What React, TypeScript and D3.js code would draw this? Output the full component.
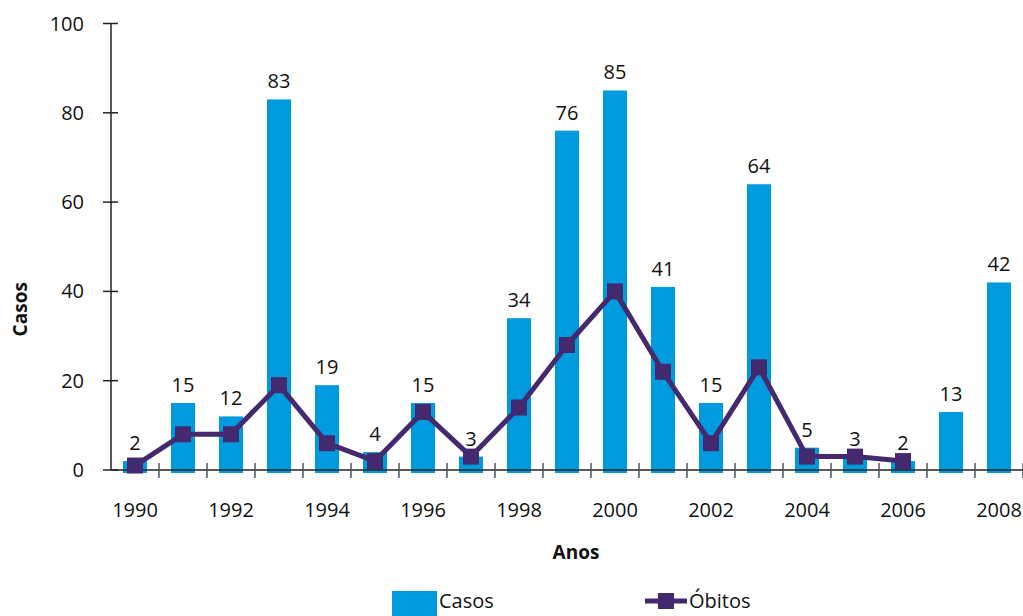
import * as d3 from 'd3';
import { useRef, useEffect } from 'react';

const anos: string[] = ['1990', '1991', '1992', '1993', '1994', '1995', '1996', '1997', '1998', '1999',
    '2000', '2001', '2002', '2003', '2004', '2005', '2006', '2007', '2008'];
const casos: number[] = [2, 15, 12, 83, 19, 4, 15, 3, 34, 76, 85, 41, 15, 64, 5, 3, 2, 13, 42];
// obitos only goes to 2006
const obitos: number[] = [1, 8, 8, 19, 6, 2, 13, 3, 14, 28, 40, 22, 6, 23, 3, 3, 2];
const yTicks: number[] = [0, 20, 40, 60, 80, 100];

const BAR_COLOR = '#009ade';
const LINE_COLOR = '#45296f';
const FONT = "'Open Sans', 'DejaVu Sans', sans-serif";

const App = () => {
    const ref = useRef<SVGSVGElement>(null);

    useEffect(() => {
        if (!ref.current) return;
        const root = d3.select(ref.current);
        root.selectAll('*').remove();

        const left = 111, right = 1023, top = 23.5, bottom = 470;

        const x = d3.scaleBand<string>()
            .domain(anos)
            .range([left, right])
            .paddingInner(0).paddingOuter(0);
        const y = d3.scaleLinear().domain([0, 100]).range([bottom, top]);
        const bw = x.bandwidth() * 0.5;
        const cx = (d: string) => x(d)! + x.bandwidth() / 2;

        const svg = root.append('g').style('font-family', FONT);

        // bars
        svg.selectAll('rect.bar')
            .data(casos)
            .enter().append('rect')
            .attr('class', 'bar')
            .attr('x', (d, i) => cx(anos[i]) - bw / 2)
            .attr('y', d => y(d))
            .attr('width', bw)
            .attr('height', d => y(0) - y(d) + 3)
            .style('fill', BAR_COLOR);

        // value labels
        svg.selectAll('text.val')
            .data(casos)
            .enter().append('text')
            .attr('class', 'val')
            .attr('x', (d, i) => cx(anos[i]))
            .attr('y', d => y(d) - 11)
            .attr('text-anchor', 'middle')
            .style('font-size', '20px')
            .style('fill', '#111')
            .text(d => d);

        // y axis
        svg.append('line')
            .attr('x1', left).attr('x2', left)
            .attr('y1', y(100)).attr('y2', y(0))
            .style('stroke', '#222').style('stroke-width', 1.5);
        yTicks.forEach(t => {
            svg.append('line')
                .attr('x1', left - 8).attr('x2', left + 7)
                .attr('y1', y(t)).attr('y2', y(t))
                .style('stroke', '#222').style('stroke-width', 1.5);
            svg.append('text')
                .attr('x', 84).attr('y', y(t))
                .attr('dy', '0.35em')
                .attr('text-anchor', 'end')
                .style('font-size', '20px')
                .style('fill', '#111')
                .text(t);
        });

        // x axis
        svg.append('line')
            .attr('x1', left).attr('x2', right)
            .attr('y1', y(0)).attr('y2', y(0))
            .style('stroke', '#222').style('stroke-width', 1.5);
        anos.forEach(a => {
            svg.append('line')
                .attr('x1', x(a)! + x.bandwidth()).attr('x2', x(a)! + x.bandwidth())
                .attr('y1', y(0) - 7).attr('y2', y(0) + 8)
                .style('stroke', '#555').style('stroke-width', 1.5);
        });
        svg.selectAll('text.xlab')
            .data(anos.filter((d, i) => i % 2 === 0))
            .enter().append('text')
            .attr('class', 'xlab')
            .attr('x', d => cx(d))
            .attr('y', 517)
            .attr('text-anchor', 'middle')
            .style('font-size', '20px')
            .style('fill', '#111')
            .text(d => d);

        // axis titles
        svg.append('text')
            .attr('x', 576).attr('y', 559)
            .attr('text-anchor', 'middle')
            .style('font-size', '19px').style('font-weight', 'bold')
            .style('fill', '#111')
            .text('Anos');
        svg.append('text')
            .attr('transform', 'translate(27,' + y(36) + ') rotate(-90)')
            .attr('text-anchor', 'middle')
            .style('font-size', '19px').style('font-weight', 'bold')
            .style('fill', '#111')
            .text('Casos');

        // obitos line
        const line = d3.line<number>()
            .x((d, i) => cx(anos[i]))
            .y(d => y(d));
        svg.append('path')
            .datum(obitos)
            .attr('d', line)
            .style('fill', 'none')
            .style('stroke', LINE_COLOR)
            .style('stroke-width', 5)
            .style('stroke-linejoin', 'round');
        svg.selectAll('rect.mk')
            .data(obitos)
            .enter().append('rect')
            .attr('class', 'mk')
            .attr('x', (d, i) => cx(anos[i]) - 8)
            .attr('y', d => y(d) - 8)
            .attr('width', 16).attr('height', 16)
            .style('fill', LINE_COLOR);

        // legend, sits right at the bottom edge
        const lg = svg.append('g');
        lg.append('rect')
            .attr('x', 392).attr('y', 591)
            .attr('width', 45).attr('height', 25)
            .style('fill', BAR_COLOR);
        lg.append('text')
            .attr('x', 439).attr('y', 608)
            .style('font-size', '20px').style('fill', '#111')
            .text('Casos');
        lg.append('line')
            .attr('x1', 645).attr('x2', 687)
            .attr('y1', 601).attr('y2', 601)
            .style('stroke', LINE_COLOR).style('stroke-width', 5);
        lg.append('rect')
            .attr('x', 658).attr('y', 593)
            .attr('width', 16).attr('height', 16)
            .style('fill', LINE_COLOR);
        lg.append('text')
            .attr('x', 689).attr('y', 608)
            .style('font-size', '20px').style('fill', '#111')
            .text('Óbitos');
    }, []);

    return (
        <svg ref={ref} width={1023} height={616}
            style={{ position: 'absolute', left: 0, top: 0, background: '#fff' }}></svg>
    );
};

export default App;
